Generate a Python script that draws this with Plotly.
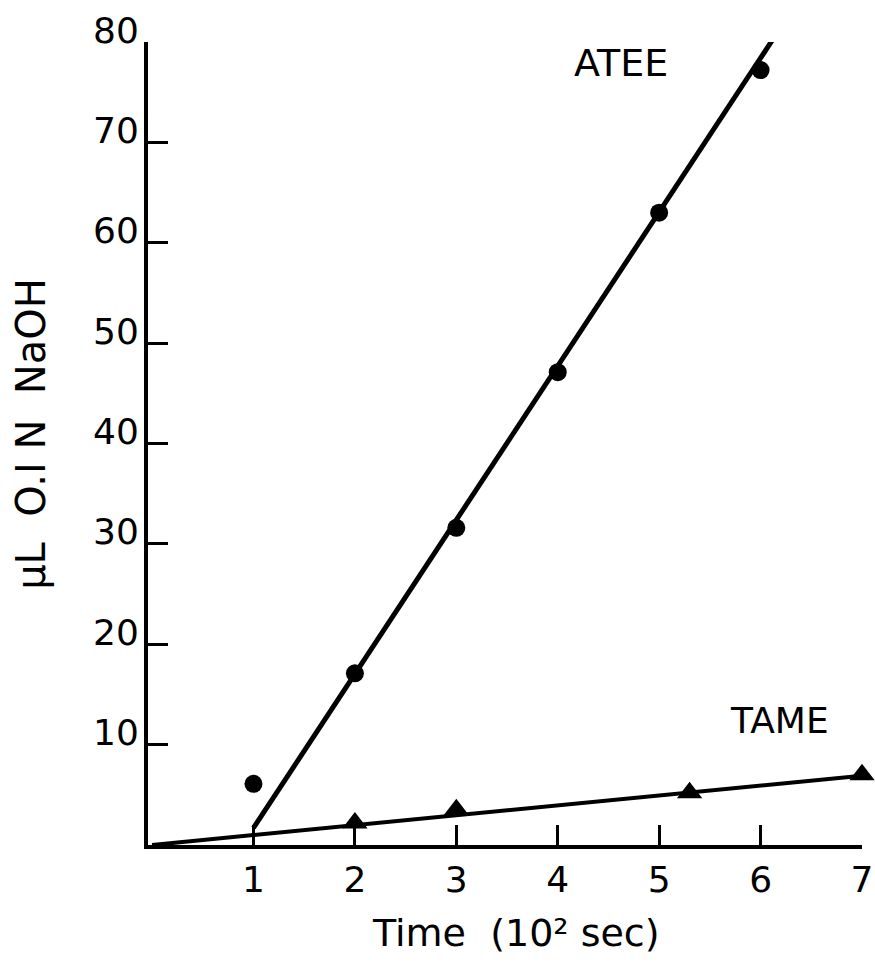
import plotly.graph_objects as go

# ATEE measured points
atee_x = [1, 2, 3, 4, 5, 6]
atee_y = [6.1, 17.1, 31.6, 47.1, 63.0, 77.2]
# ATEE fitted line (end points)
atee_fit_x = [1.0, 6.13]
atee_fit_y = [1.7, 80.4]

# TAME measured points
tame_x = [2, 3, 5.3, 7]
tame_y = [2.2, 3.5, 5.2, 7.0]
# TAME fitted line
tame_fit_x = [0, 7]
tame_fit_y = [0, 6.9]

x_ticks = [1, 2, 3, 4, 5, 6, 7]
x_tick_labels = ["1", "2", "3", "4", "5", "6", "7"]
y_ticks = [10, 20, 30, 40, 50, 60, 70, 80]
y_tick_labels = ["10", "20", "30", "40", "50", "60", "70", "80"]

FONT = "DejaVu Sans"

fig = go.Figure()
fig.add_trace(go.Scatter(x=atee_fit_x, y=atee_fit_y, mode="lines",
                         line=dict(color="black", width=5), showlegend=False))
fig.add_trace(go.Scatter(x=tame_fit_x, y=tame_fit_y, mode="lines",
                         line=dict(color="black", width=4), showlegend=False))
fig.add_trace(go.Scatter(x=atee_x, y=atee_y, mode="markers",
                         marker=dict(symbol="circle", size=18, color="black"),
                         cliponaxis=False, showlegend=False))
fig.add_trace(go.Scatter(x=tame_x, y=tame_y, mode="markers",
                         marker=dict(symbol="triangle-up", size=22, color="black"),
                         cliponaxis=False, showlegend=False))

fig.add_annotation(x=4.62, y=77.9, text="ATEE", showarrow=False,
                   font=dict(family=FONT, size=38, color="black"))
fig.add_annotation(x=6.19, y=12.45, text="TAME", showarrow=False,
                   font=dict(family=FONT, size=36, color="black"))
fig.add_annotation(xref="paper", yref="paper", x=0, y=0.512, xshift=-142,
                   text="µL  O.I N  NaOH", textangle=-90, showarrow=False,
                   font=dict(family=FONT, size=40, color="black"))
fig.add_annotation(xref="paper", yref="paper", x=0.5, y=0, xshift=11, yshift=-88,
                   yanchor="middle", text="Time  (10² sec)", showarrow=False,
                   font=dict(family=FONT, size=38, color="black"))

fig.update_layout(
    width=875, height=968,
    margin=dict(l=148, r=13, t=42, b=123),
    plot_bgcolor="white", paper_bgcolor="white",
    font=dict(family=FONT, color="black"),
    xaxis=dict(range=[-0.04, 7], tickvals=x_ticks, ticktext=x_tick_labels,
               showline=True, linewidth=4, linecolor="black",
               ticks="inside", ticklen=20, tickwidth=3, tickcolor="black",
               showgrid=False, zeroline=False, automargin=False,
               tickfont=dict(family=FONT, size=36, color="black"),
               ticklabelstandoff=0),
    yaxis=dict(range=[0, 80], tickvals=y_ticks, ticktext=y_tick_labels,
               showline=True, linewidth=4, linecolor="black",
               ticks="inside", ticklen=20, tickwidth=3, tickcolor="black",
               showgrid=False, zeroline=False, automargin=False,
               tickfont=dict(family=FONT, size=36, color="black"),
               ticklabelstandoff=-2, ticklabelshift=-12),
)

fig.write_html("out.html")
